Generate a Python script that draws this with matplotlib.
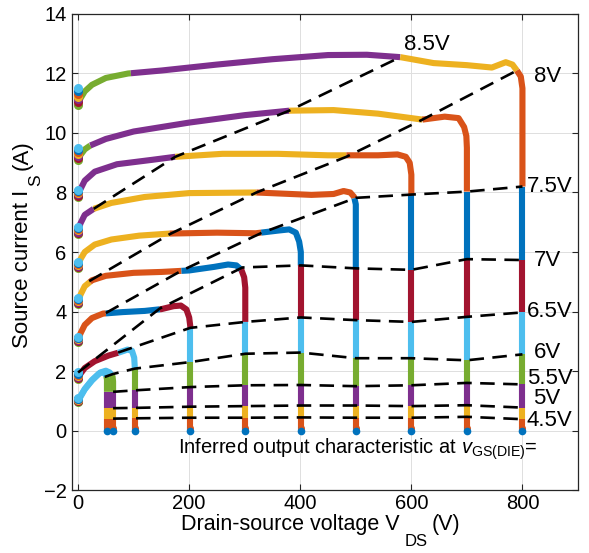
import numpy as np
import matplotlib
matplotlib.use("Agg")
import matplotlib.pyplot as plt
from matplotlib.transforms import IdentityTransform

plt.rcParams['font.family'] = ['Liberation Sans', 'DejaVu Sans']
plt.rcParams['mathtext.fontset'] = 'custom'
plt.rcParams['mathtext.rm'] = 'Liberation Sans'
plt.rcParams['mathtext.it'] = 'Liberation Sans:italic'

# MATLAB default colour order (band colour cycles with v_GS in 0.5 V steps)
palette = ['#0072BD', '#D95319', '#EDB120', '#7E2F8E', '#77AC30', '#4DBEEE', '#A2142F']

# ---------------- switching trajectories (V_DS, I_S) ----------------
traj_V_50 = [0, 4, 12, 25, 38, 46, 50, 52, 52]
traj_I_50 = [0.97, 1.12, 1.38, 1.68, 1.92, 1.97, 1.88, 1.72, 0.0]
traj_V_60 = [0, 4, 12, 25, 40, 50, 57, 62, 63, 63]
traj_I_60 = [0.99, 1.15, 1.40, 1.70, 1.95, 2.01, 1.95, 1.82, 1.65, 0.0]
traj_V_100 = [0, 4, 12, 30, 55, 75, 89, 97, 101, 102, 102]
traj_I_100 = [1.72, 1.90, 2.10, 2.33, 2.52, 2.63, 2.72, 2.68, 2.45, 2.15, 0.0]
traj_V_200 = [0, 4, 12, 25, 45, 80, 120, 150, 172, 185, 195, 200, 202, 202]
traj_I_200 = [2.98, 3.25, 3.55, 3.78, 3.93, 3.98, 4.02, 4.08, 4.18, 4.20, 4.07, 3.80, 3.50, 0.0]
traj_V_300 = [0, 4, 12, 25, 50, 100, 150, 200, 245, 270, 285, 294, 299, 301, 301]
traj_I_300 = [4.25, 4.55, 4.85, 5.05, 5.20, 5.30, 5.33, 5.38, 5.50, 5.58, 5.55, 5.40, 5.15, 4.80, 0.0]
traj_V_400 = [0, 4, 12, 30, 60, 110, 165, 250, 320, 360, 380, 392, 398, 401, 401]
traj_I_400 = [5.45, 5.75, 6.00, 6.25, 6.42, 6.55, 6.62, 6.65, 6.63, 6.72, 6.76, 6.65, 6.35, 6.00, 0.0]
traj_V_500 = [0, 4, 12, 28, 60, 120, 200, 321, 420, 460, 478, 490, 497, 500, 500]
traj_I_500 = [6.60, 6.95, 7.25, 7.45, 7.65, 7.85, 7.98, 8.00, 7.92, 7.95, 8.05, 8.00, 7.85, 7.60, 0.0]
traj_V_600 = [0, 4, 12, 30, 70, 134, 175, 260, 360, 450, 540, 575, 590, 597, 600, 600]
traj_I_600 = [7.85, 8.10, 8.40, 8.70, 8.95, 9.10, 9.20, 9.30, 9.30, 9.25, 9.25, 9.28, 9.20, 9.00, 8.60, 0.0]
traj_V_700 = [0, 4, 12, 22, 50, 100, 200, 300, 380, 460, 540, 620, 660, 685, 695, 699, 700, 700]
traj_I_700 = [9.10, 9.25, 9.45, 9.58, 9.80, 10.05, 10.35, 10.60, 10.75, 10.77, 10.65, 10.45, 10.55, 10.50, 10.20, 9.90, 9.50, 0.0]
traj_V_800 = [0, 4, 12, 25, 50, 90, 150, 250, 350, 450, 520, 580, 640, 700, 745, 770, 782, 790, 797, 800, 800]
traj_I_800 = [10.95, 11.15, 11.40, 11.62, 11.85, 12.00, 12.10, 12.30, 12.48, 12.62, 12.63, 12.55, 12.35, 12.28, 12.20, 12.38, 12.30, 12.10, 11.90, 11.50, 0.0]

traj_V = [traj_V_50, traj_V_60, traj_V_100, traj_V_200, traj_V_300,
          traj_V_400, traj_V_500, traj_V_600, traj_V_700, traj_V_800]
traj_I = [traj_I_50, traj_I_60, traj_I_100, traj_I_200, traj_I_300,
          traj_I_400, traj_I_500, traj_I_600, traj_I_700, traj_I_800]
# top of the stacked start markers at V_DS = 0
start_top = [1.05, 1.08, 1.95, 3.15, 4.45, 5.65, 6.85, 8.10, 9.50, 11.50]

# ---------------- inferred output characteristics (dashed) ----------------
lvl_labels = ['4.5V', '5V', '5.5V', '6V', '6.5V', '7V', '7.5V', '8V', '8.5V']
lvl_45_V = [63, 102, 202, 301, 401, 500, 600, 700, 800]
lvl_45_I = [0.40, 0.41, 0.43, 0.43, 0.44, 0.43, 0.43, 0.46, 0.38]
lvl_50_V = [63, 102, 202, 301, 401, 500, 600, 700, 800]
lvl_50_I = [0.75, 0.76, 0.80, 0.82, 0.84, 0.84, 0.82, 0.85, 0.77]
lvl_55_V = [63, 102, 202, 301, 401, 500, 600, 700, 800]
lvl_55_I = [1.30, 1.35, 1.46, 1.52, 1.53, 1.49, 1.52, 1.60, 1.55]
lvl_60_V = [48, 63, 102, 202, 301, 401, 500, 600, 700, 800]
lvl_60_I = [1.80, 1.90, 2.08, 2.30, 2.58, 2.62, 2.43, 2.43, 2.36, 2.56]
lvl_65_V = [72, 202, 301, 401, 500, 600, 700, 800]
lvl_65_I = [2.62, 3.45, 3.65, 3.80, 3.71, 3.65, 3.82, 3.97]
lvl_70_V = [0, 147, 296, 401, 500, 600, 700, 800]
lvl_70_I = [1.95, 4.10, 5.48, 5.55, 5.45, 5.40, 5.76, 5.73]
lvl_75_V = [50, 186, 330, 500, 600, 700, 800]
lvl_75_I = [3.95, 5.37, 6.64, 7.82, 7.93, 8.03, 8.20]
lvl_80_V = [20, 165, 321, 483, 620, 790]
lvl_80_I = [5.02, 6.60, 8.00, 9.20, 10.45, 12.10]
lvl_85_V = [28, 175, 380, 580]
lvl_85_I = [7.45, 9.20, 10.75, 12.55]
lvl_V = [lvl_45_V, lvl_50_V, lvl_55_V, lvl_60_V, lvl_65_V, lvl_70_V, lvl_75_V, lvl_80_V, lvl_85_V]
lvl_I = [lvl_45_I, lvl_50_I, lvl_55_I, lvl_60_I, lvl_65_I, lvl_70_I, lvl_75_I, lvl_80_I, lvl_85_I]
# label anchor (V_DS, I_S) of each level
lab_V = [808, 820, 808, 820, 808, 820, 808, 820, 586]
lab_I = [0.35, 1.08, 1.74, 2.63, 4.00, 5.73, 8.20, 11.90, 12.98]

# extra colour-band boundaries (4.0 V crossing, 9.0 V crossing, etc.)
extra_T = [0, 1, 2, 3, 4, 5, 6, 7, 8, 9, 0, 0, 0, 0, 1, 8, 9]
extra_V = [52, 63, 102, 202, 301, 401, 500, 600, 700, 800, 52, 52, 52, 0, 0, 22, 95]
extra_I = [0.12, 0.12, 0.12, 0.12, 0.12, 0.12, 0.12, 0.12, 0.12, 0.12, 0.40, 0.75, 1.30, 0.97, 0.99, 9.58, 12.01]

SX, SY = 0.556, 29.7   # approx. pixels per unit, for nearest-point search


def project(pv, pi, V, I):
    best = None
    for k in range(len(V) - 1):
        x0, y0, x1, y1 = V[k] * SX, I[k] * SY, V[k + 1] * SX, I[k + 1] * SY
        px, py = pv * SX, pi * SY
        dx, dy = x1 - x0, y1 - y0
        L2 = dx * dx + dy * dy
        t = 0.0 if L2 == 0 else max(0.0, min(1.0, ((px - x0) * dx + (py - y0) * dy) / L2))
        d = np.hypot(px - (x0 + t * dx), py - (y0 + t * dy))
        if best is None or d < best[1]:
            best = (k + t, d)
    return best


def point_at(V, I, s):
    k = min(int(np.floor(s)), len(V) - 2)
    t = s - k
    return V[k] + t * (V[k + 1] - V[k]), I[k] + t * (I[k + 1] - I[k])


# collect boundaries per trajectory
bounds = [[] for _ in traj_V]
for LV, LI in zip(lvl_V, lvl_I):
    for v, i in zip(LV, LI):
        res = [project(v, i, traj_V[j], traj_I[j]) for j in range(len(traj_V))]
        j = int(np.argmin([r[1] for r in res]))
        bounds[j].append(res[j][0])
for j, v, i in zip(extra_T, extra_V, extra_I):
    bounds[j].append(project(v, i, traj_V[j], traj_I[j])[0])

fig = plt.figure(figsize=(5.89, 5.53), dpi=100)
ax = fig.add_axes([0.1222, 0.1139, 0.8591, 0.8608])

for j in range(len(traj_V)):
    V, I = traj_V[j], traj_I[j]
    params = [0.0] + sorted(bounds[j]) + [float(len(V) - 1)]
    npieces = len(params) - 1
    for p in range(npieces):
        a, b = params[p], params[p + 1]
        if b - a < 1e-6:
            continue
        pa = point_at(V, I, a)
        pb = point_at(V, I, b)
        xs = [pa[0]] + [V[k] for k in range(len(V)) if a < k < b] + [pb[0]]
        ys = [pa[1]] + [I[k] for k in range(len(V)) if a < k < b] + [pb[1]]
        band = npieces - 1 - p
        ax.plot(xs, ys, color=palette[band % 7], lw=4.4, solid_capstyle='butt',
                solid_joinstyle='round', zorder=3)
    # stacked markers at start (V_DS = 0)
    stack_cols = ['#77AC30', '#A2142F', '#7E2F8E', '#EDB120', '#D95319', '#0072BD', '#4DBEEE']
    ys = np.linspace(I[0], start_top[j], len(stack_cols))
    for c, y in zip(stack_cols, ys):
        ax.plot([V[0]], [y], 'o', color=c, ms=6.5, mec='none', zorder=4)
    # markers at end (I_S = 0)
    ax.plot([V[-1]], [0.1], 'o', color='#D95319', ms=5, mec='none', zorder=4)
    ax.plot([V[-1]], [0.0], 'o', color='#0072BD', ms=5.5, mec='none', zorder=4)

for LV, LI in zip(lvl_V, lvl_I):
    ax.plot(LV, LI, color='black', lw=1.9, dashes=(5.5, 3.2), zorder=5)

for t, x, y in zip(lvl_labels, lab_V, lab_I):
    ax.text(x, y, t, fontsize=16, ha='left', va='center', color='black', zorder=6)

ax.text(179, -0.62, r"Inferred output characteristic at $\mathit{v}_{\mathrm{GS(DIE)}}$=",
        fontsize=14.5, ha='left', va='center', color='black')

ax.set_xlim(-11, 900)
ax.set_ylim(-2, 14)
ax.set_xticks([0, 200, 400, 600, 800])
ax.set_yticks([-2, 0, 2, 4, 6, 8, 10, 12, 14])
ax.grid(True, color='#dfdfdf', lw=0.7, zorder=0)
ax.set_axisbelow(True)
ax.tick_params(direction='in', top=True, right=True, length=4, width=0.8,
               labelsize=14.5, colors='#262626', labelcolor='black', pad=4)
ax.tick_params(axis='x', pad=3)
for s in ax.spines.values():
    s.set_color('#262626')
    s.set_linewidth(0.9)


# MATLAB-style axis labels with strongly lowered subscripts
def label_run(pieces, center, base, vertical):
    texts = []
    for s, fs, off in pieces:
        if s is None:
            texts.append((None, fs, off))
            continue
        t = fig.text(0, 0, s, fontsize=fs, rotation=90 if vertical else 0,
                     rotation_mode='anchor', ha='left', va='baseline',
                     transform=IdentityTransform(), color='black')
        texts.append((t, fs, off))
    r = fig.canvas.get_renderer()
    lens = []
    for t, fs, off in texts:
        if t is None:
            lens.append(fs)
        else:
            bb = t.get_window_extent(r)
            lens.append(bb.height if vertical else bb.width)
    pos = center - sum(lens) / 2
    for (t, fs, off), L in zip(texts, lens):
        if t is not None:
            if vertical:
                t.set_position((base + off, pos))
            else:
                t.set_position((pos, base - off))
        pos += L


label_run([("Drain-source voltage V", 15.5, 0), (None, 5, 0), ("DS", 12, 16),
           (None, 4, 0), ("(V)", 15.5, 0)], center=321, base=23, vertical=False)
label_run([("Source current I", 16, 0), (None, 4, 0), ("S", 12.5, 12),
           (None, 4, 0), ("(A)", 16, 0)], center=309, base=28, vertical=True)

fig.savefig('out.png', dpi=100)
